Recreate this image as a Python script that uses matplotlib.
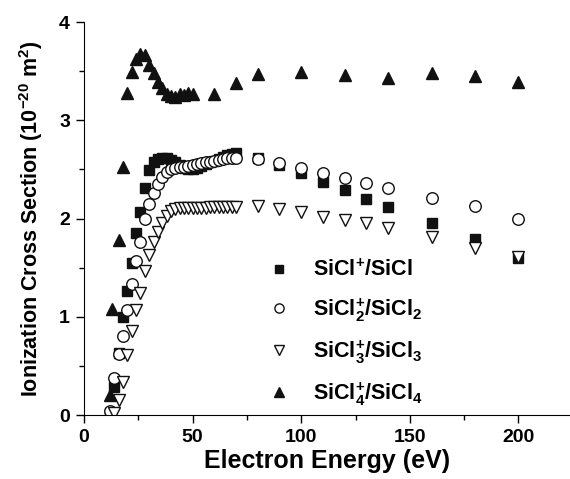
import numpy as np
import matplotlib
matplotlib.use('Agg')
import matplotlib.pyplot as plt
from matplotlib.ticker import MultipleLocator

plt.rcParams['font.family'] = ['Liberation Sans', 'DejaVu Sans']
plt.rcParams['font.weight'] = 'bold'
plt.rcParams['mathtext.fontset'] = 'custom'
plt.rcParams['mathtext.rm'] = 'Liberation Sans:bold'
plt.rcParams['mathtext.bf'] = 'Liberation Sans:bold'
plt.rcParams['mathtext.it'] = 'Liberation Sans:bold'

# SiCl+/SiCl
e_sicl = [12, 14, 16, 18, 20, 22, 24, 26, 28, 30, 32, 34, 36, 38, 40, 42, 44, 46, 48, 50,
          52, 54, 56, 58, 60, 62, 64, 66, 68, 70, 80, 90, 100, 110, 120, 130, 140, 160, 180, 200]
s_sicl = [0.02, 0.29, 0.63, 1.0, 1.26, 1.55, 1.85, 2.07, 2.31, 2.49, 2.58, 2.61, 2.62, 2.62, 2.60,
          2.57, 2.54, 2.51, 2.50, 2.50, 2.51, 2.53, 2.55, 2.57, 2.59, 2.61, 2.63, 2.65, 2.66, 2.67,
          2.62, 2.54, 2.46, 2.37, 2.29, 2.20, 2.12, 1.95, 1.79, 1.60]

# SiCl2+/SiCl2
e_sicl2 = [12, 14, 16, 18, 20, 22, 24, 26, 28, 30, 32, 34, 36, 38, 40, 42, 44, 46, 48, 50,
           52, 54, 56, 58, 60, 62, 64, 66, 68, 70, 80, 90, 100, 110, 120, 130, 140, 160, 180, 200]
s_sicl2 = [0.04, 0.38, 0.62, 0.80, 1.07, 1.33, 1.57, 1.76, 1.99, 2.15, 2.26, 2.35, 2.42, 2.47, 2.50,
           2.51, 2.52, 2.52, 2.53, 2.54, 2.55, 2.56, 2.57, 2.58, 2.59, 2.60, 2.61, 2.62, 2.62, 2.62,
           2.61, 2.56, 2.51, 2.46, 2.41, 2.36, 2.31, 2.21, 2.13, 2.00]

# SiCl3+/SiCl3
e_sicl3 = [14, 16, 18, 20, 22, 24, 26, 28, 30, 32, 34, 36, 38, 40, 42, 44, 46, 48, 50,
           52, 54, 56, 58, 60, 62, 64, 66, 68, 70, 80, 90, 100, 110, 120, 130, 140, 160, 180, 200]
s_sicl3 = [0.02, 0.15, 0.34, 0.61, 0.86, 1.07, 1.24, 1.47, 1.63, 1.76, 1.86, 1.95, 2.03, 2.08,
           2.10, 2.11, 2.11, 2.11, 2.11, 2.11, 2.11, 2.11, 2.12, 2.12, 2.12, 2.12, 2.12, 2.12, 2.12,
           2.13, 2.10, 2.07, 2.02, 1.98, 1.95, 1.90, 1.81, 1.70, 1.61]

# SiCl4+/SiCl4
e_sicl4 = [12, 13, 16, 18, 20, 22, 24, 26, 28, 30, 32, 34, 36, 38, 40, 42, 44, 46, 48, 50,
           60, 70, 80, 100, 120, 140, 160, 180, 200]
s_sicl4 = [0.20, 1.08, 1.78, 2.52, 3.28, 3.49, 3.62, 3.67, 3.66, 3.56, 3.48, 3.39, 3.33, 3.27,
           3.25, 3.24, 3.27, 3.26, 3.28, 3.27, 3.27, 3.38, 3.47, 3.49, 3.46, 3.43, 3.48, 3.45, 3.39]

fig = plt.figure(figsize=(5.70, 4.79), dpi=100)
ax = fig.add_axes([84 / 570, 64 / 479, 486 / 570, 393 / 479])

ms = 8.3
ax.plot(e_sicl, s_sicl, 's', color='#111111', ms=7.8, label=r'SiCl$^{+}$/SiCl')
ax.plot(e_sicl2, s_sicl2, 'o', mfc='white', mec='#111111', mew=1.0, ms=ms,
        label=r'SiCl$_2^{+}$/SiCl$_2$')
ax.plot(e_sicl3, s_sicl3, 'v', mfc='white', mec='#111111', mew=1.0, ms=ms,
        label=r'SiCl$_3^{+}$/SiCl$_3$')
ax.plot(e_sicl4, s_sicl4, '^', color='#111111', ms=ms, label=r'SiCl$_4^{+}$/SiCl$_4$')

ax.set_xlim(0, 486 / 2.172)
ax.set_ylim(0, 4)
ax.xaxis.set_major_locator(MultipleLocator(50))
ax.xaxis.set_minor_locator(MultipleLocator(25))
ax.yaxis.set_major_locator(MultipleLocator(1))
ax.yaxis.set_minor_locator(MultipleLocator(0.5))
ax.tick_params(which='major', direction='out', length=6, width=1, labelsize=14, pad=4)
ax.tick_params(which='minor', direction='out', length=3.5, width=1)
ax.spines['top'].set_visible(False)
ax.spines['right'].set_visible(False)

ax.set_xlabel('Electron Energy (eV)', fontsize=18, fontweight='bold', labelpad=2)
ax.set_ylabel(r'Ionization Cross Section (10$^{-20}$ m$^{2}$)', fontsize=15.5,
              fontweight='bold', labelpad=10)

leg = ax.legend(loc='upper left', bbox_to_anchor=(262 / 570, 1 - 260 / 479),
                bbox_transform=fig.transFigure, frameon=False, borderpad=0, borderaxespad=0,
                fontsize=15.5, handlelength=1.6, handletextpad=0.75, labelspacing=0.68,
                markerscale=0.8)

fig.savefig('out.png', dpi=100)
